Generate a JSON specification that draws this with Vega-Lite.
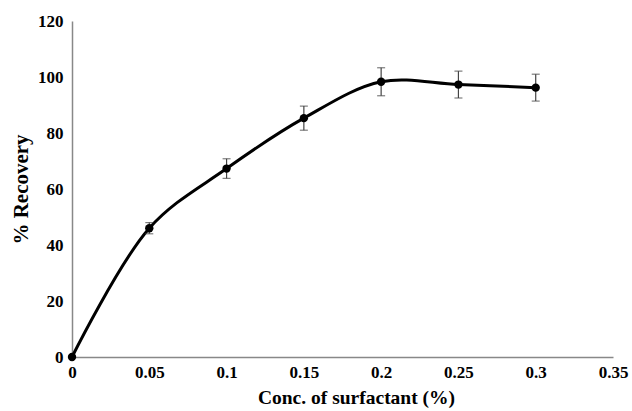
{
  "$schema": "https://vega.github.io/schema/vega-lite/v6.json",
  "autosize": "none",
  "width": 541,
  "height": 336,
  "padding": {"left": 72, "top": 21, "right": 19, "bottom": 54},
  "background": "white",
  "config": {"view": {"stroke": null}, "font": "Liberation Serif"},
  "data": {"values": [
    {"conc": 0, "rec": 0, "err": 0},
    {"conc": 0.05, "rec": 46, "err": 2},
    {"conc": 0.1, "rec": 67.3, "err": 3.5},
    {"conc": 0.15, "rec": 85.3, "err": 4.3},
    {"conc": 0.2, "rec": 98.3, "err": 5},
    {"conc": 0.25, "rec": 97.3, "err": 4.8},
    {"conc": 0.3, "rec": 96.2, "err": 4.8}
  ]},
  "encoding": {
    "x": {"field": "conc", "type": "quantitative", "scale": {"domain": [0, 0.35], "nice": false},
      "axis": {"values": [0, 0.05, 0.1, 0.15, 0.2, 0.25, 0.3, 0.35], "format": "~g", "title": "Conc. of surfactant  (%)", "grid": false, "ticks": false,
        "domainColor": "#888888", "domainWidth": 1.5, "labelFont": "Liberation Serif", "labelFontWeight": "bold", "labelFontSize": 17, "labelColor": "#000", "labelPadding": 7,
        "titleFont": "Liberation Serif", "titleFontWeight": "bold", "titleFontSize": 19.5, "titleColor": "#000", "titlePadding": 8, "titleX": 284, "titleAlign": "center", "labelFlush": false}}
  },
  "layer": [
    {
      "mark": {"type": "line", "interpolate": "catmull-rom", "color": "black", "strokeWidth": 3},
      "encoding": {
        "y": {"field": "rec", "type": "quantitative", "scale": {"domain": [0, 120], "nice": false},
          "axis": {"values": [0, 20, 40, 60, 80, 100, 120], "title": "% Recovery", "grid": false, "ticks": false,
            "domainColor": "#888888", "domainWidth": 1.5, "labelFont": "Liberation Serif", "labelFontWeight": "bold", "labelFontSize": 17, "labelColor": "#000", "labelPadding": 9,
            "titleFont": "Liberation Serif", "titleFontWeight": "bold", "titleFontSize": 21, "titleColor": "#000", "titlePadding": 6}}
      }
    },
    {
      "transform": [{"filter": "datum.err > 0"}, {"calculate": "datum.rec - datum.err", "as": "lo"}, {"calculate": "datum.rec + datum.err", "as": "hi"}],
      "mark": {"type": "rule", "color": "#444444", "strokeWidth": 1.2},
      "encoding": {"y": {"field": "lo", "type": "quantitative"}, "y2": {"field": "hi"}}
    },
    {
      "transform": [{"filter": "datum.err > 0"}, {"calculate": "datum.rec - datum.err", "as": "lo"}],
      "mark": {"type": "tick", "color": "#444444", "size": 8, "thickness": 1.2, "orient": "horizontal"},
      "encoding": {"y": {"field": "lo", "type": "quantitative"}}
    },
    {
      "transform": [{"filter": "datum.err > 0"}, {"calculate": "datum.rec + datum.err", "as": "hi"}],
      "mark": {"type": "tick", "color": "#444444", "size": 8, "thickness": 1.2, "orient": "horizontal"},
      "encoding": {"y": {"field": "hi", "type": "quantitative"}}
    },
    {
      "mark": {"type": "circle", "color": "black", "opacity": 1, "size": 70},
      "encoding": {"y": {"field": "rec", "type": "quantitative"}}
    }
  ]
}
